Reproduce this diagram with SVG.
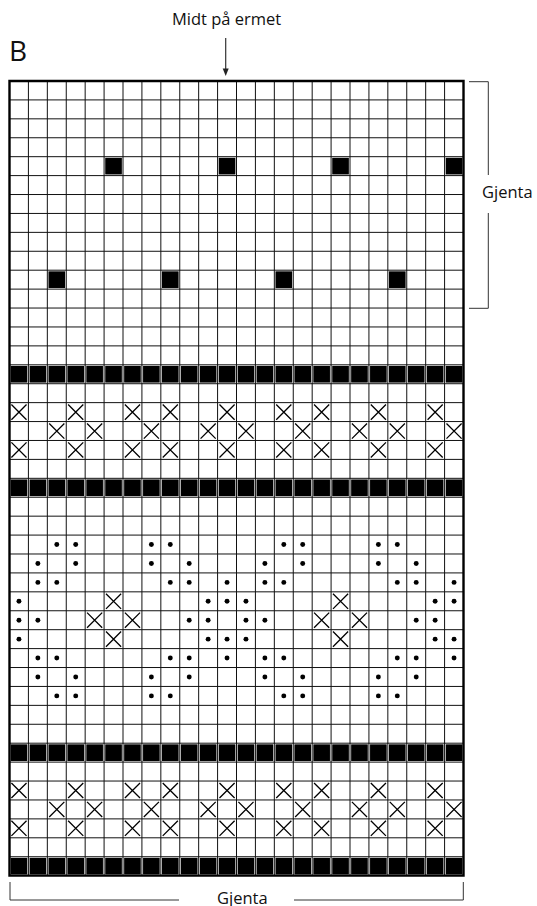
<svg xmlns="http://www.w3.org/2000/svg" xmlns:xlink="http://www.w3.org/1999/xlink" width="537" height="906" viewBox="0 0 537 906">
<style>
.t{font-family:"Open Sans","Liberation Sans",sans-serif;fill:#111;font-size:16.5px}
.ln{fill:none;stroke:#000;stroke-width:1.3;vector-effect:non-scaling-stroke}
.grid{fill:none;stroke:#111;stroke-width:1;vector-effect:non-scaling-stroke}
.border{fill:none;stroke:#000;stroke-width:2.4;vector-effect:non-scaling-stroke}
.br{fill:none;stroke:#333;stroke-width:1}
</style>
<defs>
<rect id="b" x="0.06" y="0.06" width="0.88" height="0.88" fill="#000"/>
<path id="x" class="ln" d="M0.1 0.1L0.9 0.9M0.9 0.1L0.1 0.9"/>
<circle id="d" cx="0.5" cy="0.5" r="0.13" fill="#000"/>
<marker id="ah" viewBox="0 0 6 8" refX="3" refY="8" markerWidth="6" markerHeight="8" markerUnits="userSpaceOnUse" orient="auto-start-reverse">
<path d="M0 0L6 0L3 8Z" fill="#222" transform="rotate(-90 3 4)"/>
</marker>
<g id="band">
<use href="#b" x="0"/><use href="#b" x="1"/><use href="#b" x="2"/><use href="#b" x="3"/><use href="#b" x="4"/><use href="#b" x="5"/><use href="#b" x="6"/><use href="#b" x="7"/><use href="#b" x="8"/><use href="#b" x="9"/><use href="#b" x="10"/><use href="#b" x="11"/><use href="#b" x="12"/><use href="#b" x="13"/><use href="#b" x="14"/><use href="#b" x="15"/><use href="#b" x="16"/><use href="#b" x="17"/><use href="#b" x="18"/><use href="#b" x="19"/><use href="#b" x="20"/><use href="#b" x="21"/><use href="#b" x="22"/><use href="#b" x="23"/>
</g>
<g id="xa">
<use href="#x" x="0"/><use href="#x" x="3"/><use href="#x" x="6"/><use href="#x" x="8"/><use href="#x" x="11"/><use href="#x" x="14"/><use href="#x" x="16"/><use href="#x" x="19"/><use href="#x" x="22"/>
</g>
<g id="xb">
<use href="#x" x="2"/><use href="#x" x="4"/><use href="#x" x="7"/><use href="#x" x="10"/><use href="#x" x="12"/><use href="#x" x="15"/><use href="#x" x="18"/><use href="#x" x="20"/><use href="#x" x="23"/>
</g>
<g id="d1">
<use href="#d" x="2"/><use href="#d" x="3"/><use href="#d" x="7"/><use href="#d" x="8"/><use href="#d" x="14"/><use href="#d" x="15"/><use href="#d" x="19"/><use href="#d" x="20"/>
</g>
<g id="d2">
<use href="#d" x="1"/><use href="#d" x="3"/><use href="#d" x="7"/><use href="#d" x="9"/><use href="#d" x="13"/><use href="#d" x="15"/><use href="#d" x="19"/><use href="#d" x="21"/>
</g>
<g id="d3">
<use href="#d" x="1"/><use href="#d" x="2"/><use href="#d" x="8"/><use href="#d" x="9"/><use href="#d" x="11"/><use href="#d" x="13"/><use href="#d" x="14"/><use href="#d" x="20"/><use href="#d" x="21"/><use href="#d" x="23"/>
</g>
<g id="d4">
<use href="#d" x="0"/><use href="#d" x="10"/><use href="#d" x="11"/><use href="#d" x="12"/><use href="#d" x="22"/><use href="#d" x="23"/>
<use href="#x" x="5"/><use href="#x" x="17"/>
</g>
</defs>
<rect width="537" height="906" fill="#fff"/>

<g id="chart" transform="translate(9.5 81) scale(18.917 18.92)">
<g id="motifs">
<use href="#b" x="5" y="4"/><use href="#b" x="11" y="4"/><use href="#b" x="17" y="4"/><use href="#b" x="23" y="4"/>
<use href="#b" x="2" y="10"/><use href="#b" x="8" y="10"/><use href="#b" x="14" y="10"/><use href="#b" x="20" y="10"/>
<use href="#band" y="15"/>
<use href="#xa" y="17"/><use href="#xb" y="18"/><use href="#xa" y="19"/>
<use href="#band" y="21"/>
<use href="#d1" y="24"/><use href="#d2" y="25"/><use href="#d3" y="26"/><use href="#d4" y="27"/>
<g id="row28"><use href="#d" x="0" y="28"/><use href="#d" x="1" y="28"/><use href="#d" x="9" y="28"/><use href="#d" x="10" y="28"/><use href="#d" x="12" y="28"/><use href="#d" x="13" y="28"/><use href="#d" x="21" y="28"/><use href="#d" x="22" y="28"/><use href="#x" x="4" y="28"/><use href="#x" x="6" y="28"/><use href="#x" x="16" y="28"/><use href="#x" x="18" y="28"/></g>
<use href="#d4" y="29"/><use href="#d3" y="30"/><use href="#d2" y="31"/><use href="#d1" y="32"/>
<use href="#band" y="35"/>
<use href="#xa" y="37"/><use href="#xb" y="38"/><use href="#xa" y="39"/>
<use href="#band" y="41"/>
</g>
<path id="gridlines" class="grid" d="M1 0V42M2 0V42M3 0V42M4 0V42M5 0V42M6 0V42M7 0V42M8 0V42M9 0V42M10 0V42M11 0V42M12 0V42M13 0V42M14 0V42M15 0V42M16 0V42M17 0V42M18 0V42M19 0V42M20 0V42M21 0V42M22 0V42M23 0V42M0 1H24M0 2H24M0 3H24M0 4H24M0 5H24M0 6H24M0 7H24M0 8H24M0 9H24M0 10H24M0 11H24M0 12H24M0 13H24M0 14H24M0 15H24M0 16H24M0 17H24M0 18H24M0 19H24M0 20H24M0 21H24M0 22H24M0 23H24M0 24H24M0 25H24M0 26H24M0 27H24M0 28H24M0 29H24M0 30H24M0 31H24M0 32H24M0 33H24M0 34H24M0 35H24M0 36H24M0 37H24M0 38H24M0 39H24M0 40H24M0 41H24"/>
<rect class="border" x="0" y="0" width="24" height="42"/>
</g>

<g id="labels">
<text class="t" x="9" y="61" style="font-size:28px">B</text>
<text class="t" x="172" y="25">Midt på ermet</text>
<text class="t" x="482" y="198">Gjenta</text>
<text class="t" x="217" y="904">Gjenta</text>
</g>

<g id="connectors">
<path d="M225.7 38V69" stroke="#333" stroke-width="1.2" fill="none"/>
<path d="M222.7 68.5H228.7L225.7 76Z" fill="#222"/>
<path class="br" d="M469 81.7H488.3V175M488.3 213V308.3H469"/>
<path class="br" d="M10 882V900H179M294 900H463.3V882"/>
</g>
</svg>
